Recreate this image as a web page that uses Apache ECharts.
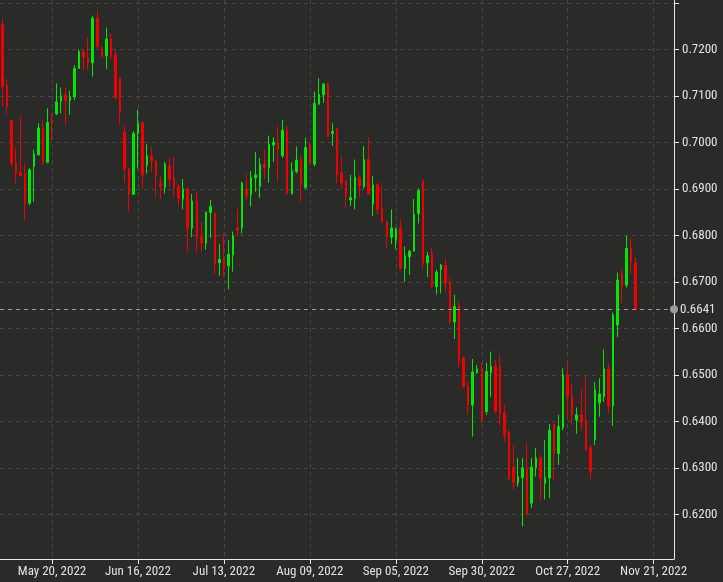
<!DOCTYPE html>
<html><head><meta charset="utf-8">
<script src="https://cdn.jsdelivr.net/npm/echarts@6/dist/echarts.min.js"></script>
<style>html,body{margin:0;padding:0;background:#2a2b29}#c{width:723px;height:582px}</style>
</head><body><div id="c"></div>
<script>
// Daily candles, first candle 2022-05-05 (weekdays)
const opens = [
0.7252,0.7123,0.7047,0.6956,0.6935,0.6932,0.6869,0.6948,0.6973,0.7031,
0.6957,0.7044,0.7061,0.7089,0.7102,0.7090,0.7098,0.7159,0.7195,0.7183,
0.7171,0.7267,0.7202,0.7186,0.7222,0.7188,0.7138,0.7022,0.6943,0.6888,
0.7019,0.7042,0.6951,0.6971,0.6958,0.6912,0.6903,0.6948,0.6923,0.6905,
0.6878,0.6900,0.6815,0.6874,0.6797,0.6783,0.6849,0.6847,0.6741,0.6748,
0.6734,0.6758,0.6816,0.6815,0.6899,0.6887,0.6923,0.6905,0.6953,0.6946,
0.6994,0.6999,0.6971,0.7026,0.6890,0.6937,0.6963,0.6903,0.6994,0.6953,
0.7082,0.7102,0.7127,0.7019,0.7029,0.6934,0.6917,0.6876,0.6879,0.6924,
0.6905,0.6964,0.6867,0.6910,0.6858,0.6829,0.6796,0.6789,0.6816,0.6729,
0.6754,0.6766,0.6847,0.6917,0.6741,0.6761,0.6690,0.6727,0.6735,0.6699,
0.6614,0.6648,0.6536,0.6476,0.6435,0.6505,0.6512,0.6421,0.6505,0.6519,
0.6518,0.6419,0.6377,0.6301,0.6268,0.6279,0.6299,0.6224,0.6301,0.6321,
0.6267,0.6278,0.6394,0.6331,0.6387,0.6500,0.6455,0.6403,0.6414,0.6402,
0.6344,0.6361,0.6440,0.6453,0.6513,0.6433,0.6607,0.6718,0.6693,0.6772,
0.6741];
const closes = [
0.7120,0.7078,0.6955,0.6933,0.6928,0.6869,0.6941,0.6975,0.7031,0.6957,
0.7043,0.7039,0.7087,0.7100,0.7090,0.7098,0.7159,0.7195,0.7183,0.7171,
0.7267,0.7206,0.7184,0.7222,0.7186,0.7096,0.7066,0.6942,0.6890,0.7019,
0.7041,0.6930,0.6971,0.6960,0.6930,0.6905,0.6953,0.6921,0.6903,0.6880,
0.6900,0.6815,0.6874,0.6795,0.6783,0.6850,0.6862,0.6740,0.6748,0.6729,
0.6759,0.6799,0.6811,0.6913,0.6885,0.6925,0.6930,0.6953,0.6946,0.6996,
0.7000,0.6985,0.7026,0.6890,0.6939,0.6962,0.6910,0.6989,0.6955,0.7084,
0.7103,0.7125,0.7012,0.7023,0.6930,0.6912,0.6883,0.6881,0.6925,0.6906,
0.6963,0.6889,0.6908,0.6856,0.6829,0.6797,0.6816,0.6814,0.6728,0.6756,
0.6766,0.6845,0.6896,0.6741,0.6756,0.6690,0.6721,0.6736,0.6697,0.6614,
0.6647,0.6528,0.6475,0.6435,0.6506,0.6512,0.6403,0.6507,0.6518,0.6421,
0.6417,0.6371,0.6278,0.6268,0.6281,0.6300,0.6199,0.6302,0.6321,0.6278,
0.6279,0.6381,0.6331,0.6389,0.6500,0.6453,0.6414,0.6414,0.6399,0.6340,
0.6292,0.6468,0.6459,0.6513,0.6433,0.6629,0.6704,0.6690,0.6772,0.6743,
0.6641];
const lows = [
0.7078,0.7059,0.6948,0.6912,0.6926,0.6831,0.6865,0.6872,0.6971,0.6951,
0.6955,0.7005,0.7059,0.7062,0.7037,0.7059,0.7091,0.7158,0.7156,0.7156,
0.7141,0.7202,0.7183,0.7157,0.7177,0.7093,0.7037,0.6913,0.6852,0.6887,
0.6944,0.6901,0.6933,0.6936,0.6882,0.6878,0.6890,0.6905,0.6883,0.6863,
0.6856,0.6765,0.6796,0.6763,0.6765,0.6769,0.6794,0.6717,0.6713,0.6711,
0.6684,0.6722,0.6797,0.6804,0.6876,0.6862,0.6894,0.6880,0.6923,0.6913,
0.6958,0.6915,0.6967,0.6889,0.6887,0.6933,0.6872,0.6899,0.6951,0.6948,
0.7080,0.7085,0.7011,0.6992,0.6912,0.6901,0.6860,0.6863,0.6856,0.6881,
0.6901,0.6888,0.6842,0.6845,0.6827,0.6773,0.6781,0.6770,0.6726,0.6700,
0.6715,0.6765,0.6826,0.6727,0.6710,0.6687,0.6673,0.6675,0.6679,0.6611,
0.6577,0.6515,0.6471,0.6415,0.6367,0.6502,0.6396,0.6414,0.6453,0.6417,
0.6392,0.6356,0.6274,0.6253,0.6260,0.6174,0.6199,0.6213,0.6281,0.6231,
0.6232,0.6235,0.6274,0.6306,0.6381,0.6407,0.6392,0.6373,0.6381,0.6337,
0.6276,0.6349,0.6410,0.6442,0.6417,0.6390,0.6581,0.6655,0.6688,0.6718,
0.6638];
const highs = [
0.7267,0.7136,0.7048,0.6987,0.7055,0.6955,0.6944,0.6984,0.7041,0.7048,
0.7073,0.7062,0.7127,0.7118,0.7118,0.7111,0.7166,0.7200,0.7200,0.7225,
0.7272,0.7284,0.7206,0.7247,0.7234,0.7198,0.7138,0.7036,0.6943,0.7024,
0.7070,0.7044,0.6996,0.6991,0.6962,0.6926,0.6958,0.6969,0.6968,0.6910,
0.6921,0.6901,0.6889,0.6895,0.6827,0.6851,0.6876,0.6849,0.6781,0.6804,
0.6790,0.6808,0.6856,0.6915,0.6933,0.6938,0.6979,0.6966,0.6984,0.7014,
0.7011,0.7034,0.7048,0.7034,0.6957,0.6991,0.6969,0.7010,0.7001,0.7109,
0.7138,0.7128,0.7128,0.7041,0.7030,0.6971,0.6919,0.6930,0.6963,0.6930,
0.6992,0.7011,0.6928,0.6912,0.6908,0.6831,0.6856,0.6817,0.6835,0.6776,
0.6769,0.6878,0.6901,0.6919,0.6764,0.6772,0.6726,0.6738,0.6751,0.6709,
0.6672,0.6657,0.6539,0.6485,0.6534,0.6521,0.6526,0.6526,0.6550,0.6532,
0.6544,0.6435,0.6381,0.6349,0.6321,0.6321,0.6353,0.6321,0.6342,0.6328,
0.6360,0.6394,0.6396,0.6414,0.6514,0.6525,0.6482,0.6430,0.6468,0.6496,
0.6349,0.6485,0.6493,0.6554,0.6525,0.6634,0.6720,0.6727,0.6799,0.6794,
0.6753];
const tickIndex = [11, 30, 49, 68, 87, 106, 125, 144];
const tickLabels = ['May 20, 2022','Jun 16, 2022','Jul 13, 2022','Aug 09, 2022','Sep 05, 2022','Sep 30, 2022','Oct 27, 2022','Nov 21, 2022'];
const lastPrice = 0.6641;

const SLOTS = 149;
const MONTHS = ['Jan','Feb','Mar','Apr','May','Jun','Jul','Aug','Sep','Oct','Nov','Dec'];
const categories = [];
let d = new Date(Date.UTC(2022, 4, 5));
while (categories.length < SLOTS) {
  const w = d.getUTCDay();
  if (w !== 0 && w !== 6) categories.push(MONTHS[d.getUTCMonth()] + ' ' + String(d.getUTCDate()).padStart(2,'0') + ', ' + d.getUTCFullYear());
  d = new Date(d.getTime() + 86400000);
}
const labelAt = {};
tickIndex.forEach((k, j) => { labelAt[k] = tickLabels[j]; });
const isTick = (i) => labelAt[i] !== undefined;
const candles = opens.map((o, i) => [o, closes[i], lows[i], highs[i]]);

const FONT = '"Liberation Sans Narrow", "Roboto Condensed", "DejaVu Sans Condensed", Roboto, sans-serif';
const TXT = '#e2e2e2';
const AXIS = '#e8e8e8';
const GRID = '#474845';
const UP = '#00e600';
const DOWN = '#ee0000';

const chart = echarts.init(document.getElementById('c'), null, {renderer: 'canvas'});
chart.setOption({
  backgroundColor: '#2a2b29',
  animation: false,
  grid: {left: 0, right: 49, top: 0, bottom: 23, containLabel: false},
  xAxis: {
    type: 'category', data: categories, boundaryGap: true,
    axisLine: {show: true, lineStyle: {color: AXIS, width: 1}},
    axisTick: {show: true, alignWithLabel: true, interval: isTick, length: 5, lineStyle: {color: AXIS}},
    axisLabel: {interval: isTick, formatter: (v, i) => labelAt[i] || '', color: TXT, fontFamily: FONT, fontSize: 13, margin: 6},
    splitLine: {show: true, alignWithLabel: true, interval: isTick, lineStyle: {color: GRID, type: [4, 4], width: 1}}
  },
  yAxis: {
    type: 'value', position: 'right', min: 0.6104, max: 0.7306, splitNumber: 12,
    axisLine: {show: true, lineStyle: {color: AXIS, width: 1}},
    axisTick: {show: true, length: 5, lineStyle: {color: AXIS}},
    axisLabel: {color: TXT, fontFamily: FONT, fontSize: 13, margin: 8, showMinLabel: false, showMaxLabel: false,
      formatter: (v) => (v > 0.615 && v < 0.725) ? v.toFixed(4) : ''},
    splitLine: {show: true, showMinLine: false, showMaxLine: false, lineStyle: {color: GRID, type: [4, 4], width: 1}}
  },
  series: [{
    type: 'candlestick', data: candles, barWidth: 2,
    itemStyle: {color: UP, color0: DOWN, borderColor: UP, borderColor0: DOWN, borderWidth: 1}
  }, {
    type: 'line', data: [], silent: true,
    markLine: {
      silent: true, symbol: ['none', 'circle'], symbolSize: 8,
      precision: 4,
      data: [{yAxis: lastPrice}],
      itemStyle: {color: '#8d8d8d'},
      lineStyle: {color: '#9a9a9a', type: [4, 4], width: 1},
      label: {show: true, position: 'end', formatter: lastPrice.toFixed(4), color: TXT, fontFamily: FONT, fontSize: 13, distance: 6},
      emphasis: {disabled: true}
    }
  }]
});
</script>
</body></html>
